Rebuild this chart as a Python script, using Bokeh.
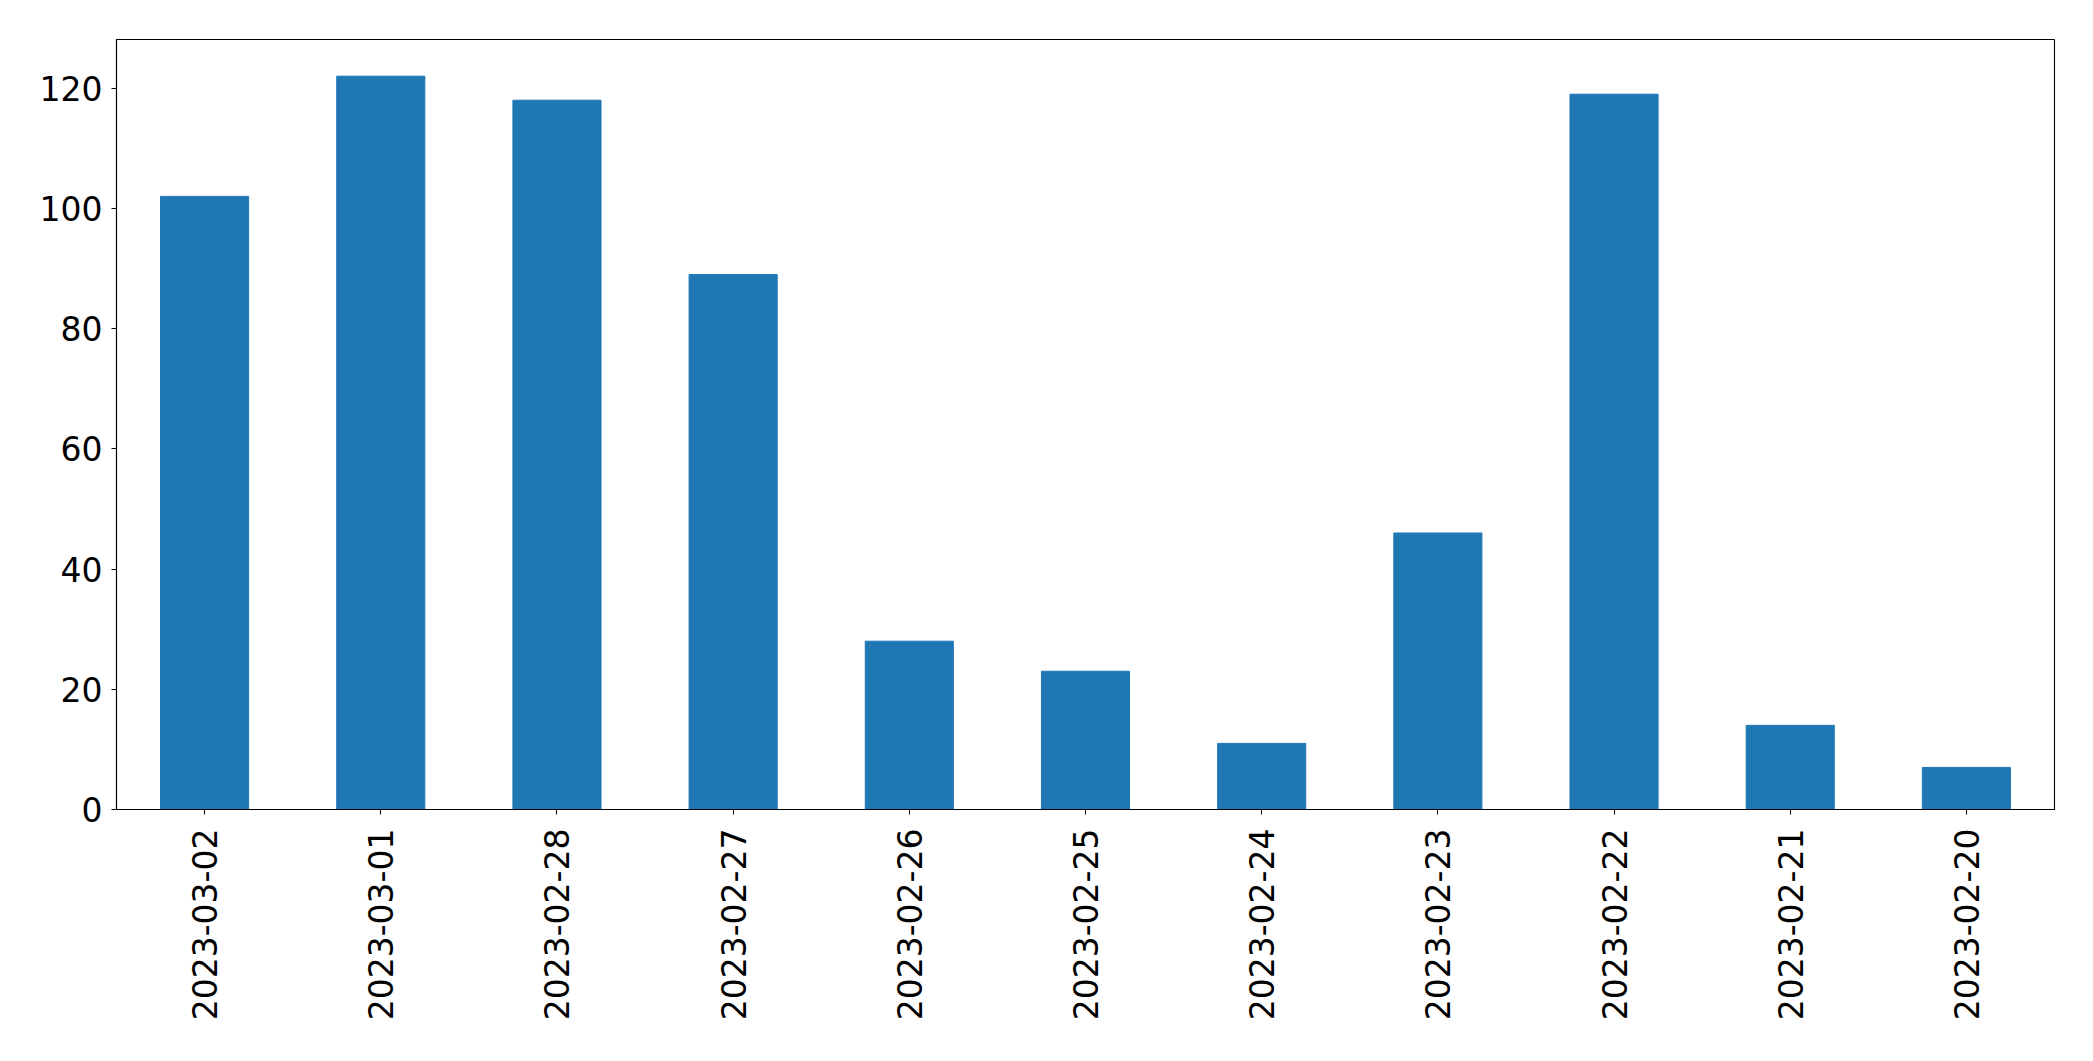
import math
from bokeh.plotting import figure
from bokeh.models import FactorRange, Range1d, FixedTicker
from bokeh.embed import file_html
from bokeh.resources import INLINE

dates = ["2023-03-02", "2023-03-01", "2023-02-28", "2023-02-27", "2023-02-26",
         "2023-02-25", "2023-02-24", "2023-02-23", "2023-02-22", "2023-02-21",
         "2023-02-20"]
counts = [102, 122, 118, 89, 28, 23, 11, 46, 119, 14, 7]
y_ticks = [0, 20, 40, 60, 80, 100, 120]

p = figure(width=2093, height=1061, output_backend="svg", toolbar_location=None,
           x_range=FactorRange(factors=dates, range_padding=0),
           y_range=Range1d(0, max(counts) * 1.05),
           min_border_left=116, min_border_right=39, min_border_top=39,
           min_border_bottom=252)

p.vbar(x=dates, top=counts, width=0.5, bottom=0, fill_color="#1f77b4",
       line_color="#1f77b4")

p.xgrid.visible = False
p.ygrid.visible = False
p.outline_line_color = "black"
p.outline_line_width = 1.1
p.background_fill_color = "white"
p.border_fill_color = "white"

for ax in (p.xaxis[0], p.yaxis[0]):
    ax.axis_line_color = "black"
    ax.axis_line_width = 1.1
    ax.major_tick_line_color = "black"
    ax.major_tick_line_width = 1.1
    ax.major_tick_out = 5
    ax.major_tick_in = 0
    ax.minor_tick_line_color = None
    ax.major_label_text_font = "DejaVu Sans"
    ax.major_label_text_font_size = "33px"
    ax.major_label_text_color = "black"

p.yaxis[0].ticker = FixedTicker(ticks=y_ticks)
p.yaxis[0].major_label_standoff = 9
p.xaxis[0].major_label_orientation = math.pi / 2
p.xaxis[0].major_label_standoff = 14
p.xaxis[0].group_text_font_size = "0px"

open("out.html", "w").write(file_html(p, INLINE))
